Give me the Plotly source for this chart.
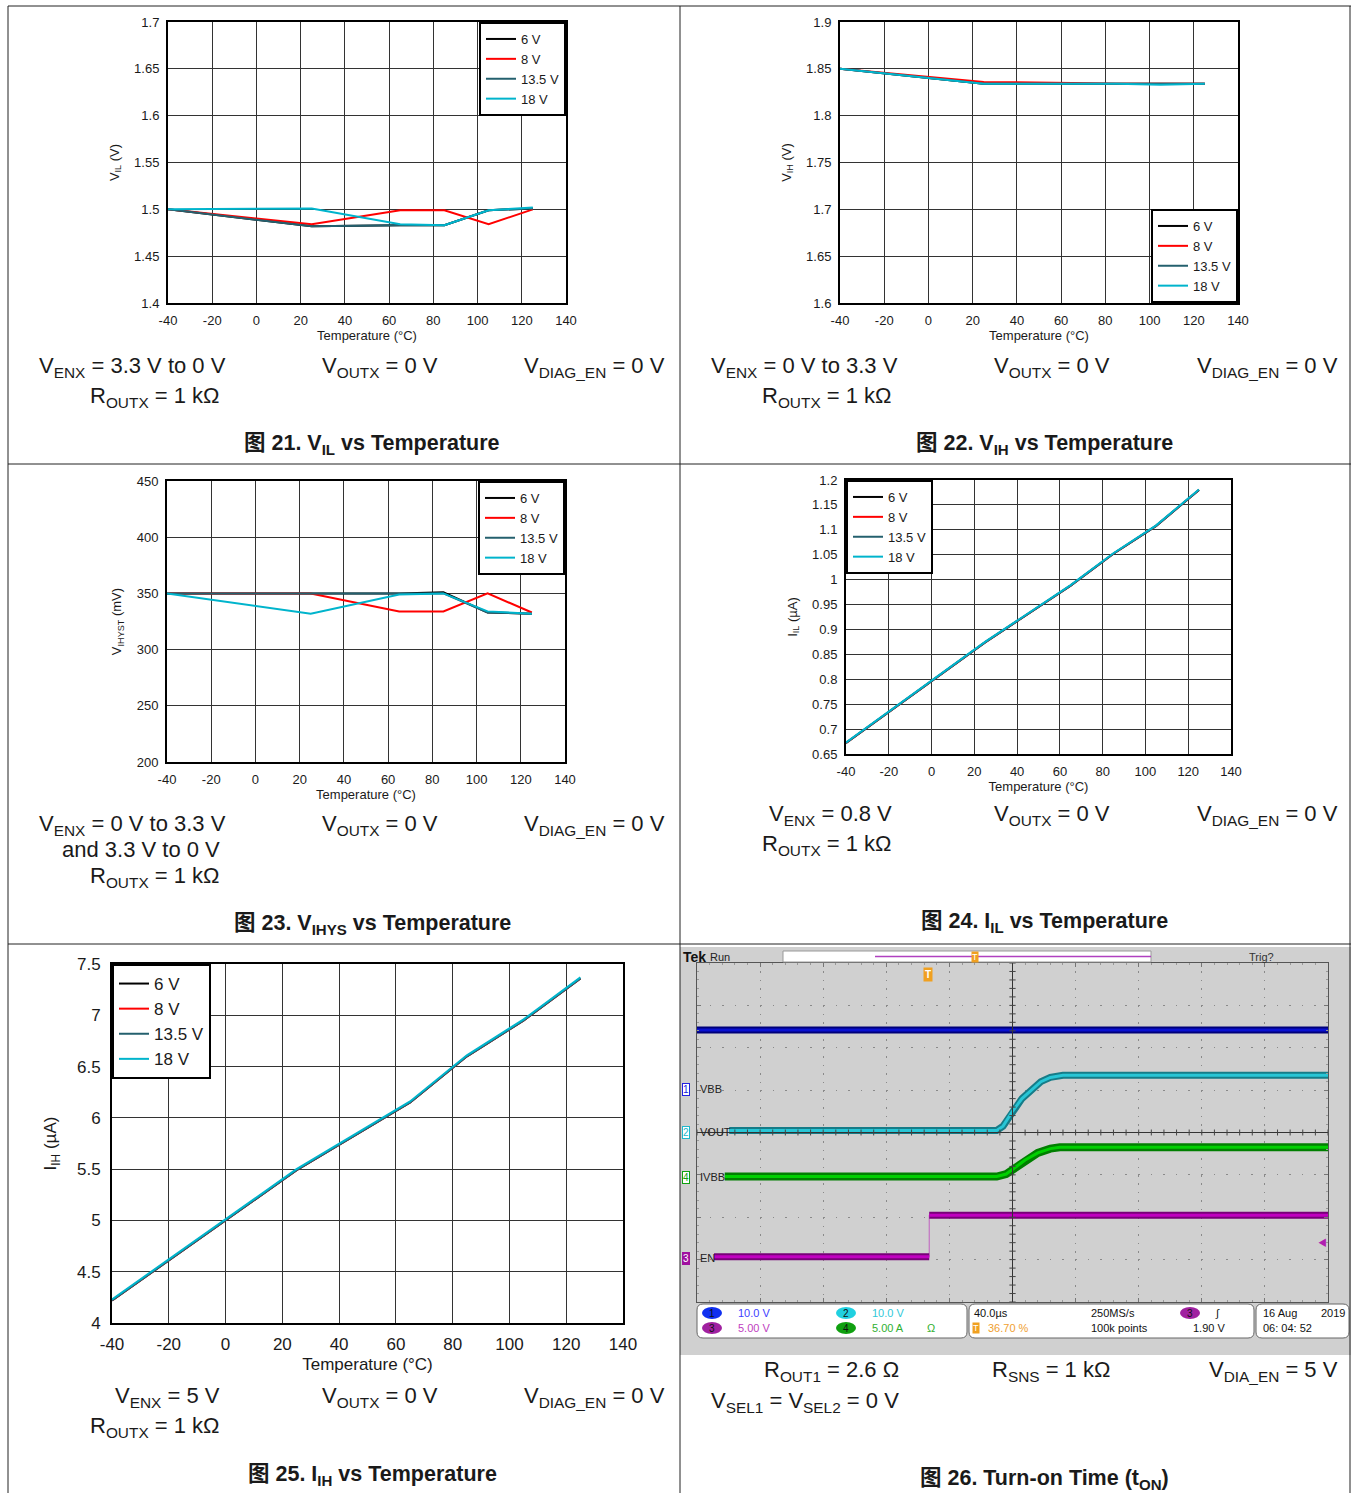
import plotly.graph_objects as go

W, H = 1351, 1493
def fx(x): return x / W
def fy(y): return 1 - y / H

FONT = "Liberation Sans, Arial, Noto Sans CJK SC, sans-serif"

# ---------------- data ----------------
temps = [-40, 25, 65, 85, 105, 125]
series_names = ["6 V", "8 V", "13.5 V", "18 V"]
series_colors = ["#000000", "#ff0000", "#24606e", "#00b4cc"]
temp_ticks = [-40, -20, 0, 20, 40, 60, 80, 100, 120, 140]
temp_labels = ["-40", "-20", "0", "20", "40", "60", "80", "100", "120", "140"]

# Fig 21 VIL (V)
vil_6v = [1.500, 1.482, 1.483, 1.483, 1.499, 1.501]
vil_8v = [1.500, 1.484, 1.499, 1.499, 1.484, 1.500]
vil_13v = [1.500, 1.482, 1.483, 1.483, 1.499, 1.501]
vil_18v = [1.500, 1.501, 1.484, 1.483, 1.499, 1.502]
vil_ticks = [1.4, 1.45, 1.5, 1.55, 1.6, 1.65, 1.7]
vil_labels = ["1.4", "1.45", "1.5", "1.55", "1.6", "1.65", "1.7"]

# Fig 22 VIH (V)
vih_6v = [1.850, 1.834, 1.834, 1.834, 1.834, 1.834]
vih_8v = [1.850, 1.836, 1.835, 1.834, 1.834, 1.834]
vih_13v = [1.850, 1.834, 1.834, 1.834, 1.834, 1.834]
vih_18v = [1.850, 1.834, 1.834, 1.834, 1.833, 1.834]
vih_ticks = [1.6, 1.65, 1.7, 1.75, 1.8, 1.85, 1.9]
vih_labels = ["1.6", "1.65", "1.7", "1.75", "1.8", "1.85", "1.9"]

# Fig 23 VIHYS (mV)
hys_6v = [350, 350, 350, 351, 333, 332]
hys_8v = [350, 350, 334, 334, 350, 333]
hys_13v = [350, 350, 350, 350, 333, 332]
hys_18v = [350, 332, 349, 350, 334, 332]
hys_ticks = [200, 250, 300, 350, 400, 450]
hys_labels = ["200", "250", "300", "350", "400", "450"]

# Fig 24 IIL (uA)
iil_6v = [0.672, 0.874, 0.988, 1.052, 1.108, 1.180]
iil_8v = [0.672, 0.874, 0.988, 1.052, 1.108, 1.180]
iil_13v = [0.672, 0.874, 0.988, 1.052, 1.108, 1.180]
iil_18v = [0.673, 0.875, 0.989, 1.053, 1.109, 1.181]
iil_ticks = [0.65, 0.7, 0.75, 0.8, 0.85, 0.9, 0.95, 1.0, 1.05, 1.1, 1.15, 1.2]
iil_labels = ["0.65", "0.7", "0.75", "0.8", "0.85", "0.9", "0.95", "1", "1.05", "1.1", "1.15", "1.2"]

# Fig 25 IIH (uA)
iih_6v = [4.22, 5.49, 6.15, 6.60, 6.95, 7.36]
iih_8v = [4.22, 5.49, 6.15, 6.60, 6.95, 7.36]
iih_13v = [4.22, 5.49, 6.15, 6.60, 6.95, 7.36]
iih_18v = [4.23, 5.50, 6.16, 6.61, 6.96, 7.37]
iih_ticks = [4, 4.5, 5, 5.5, 6, 6.5, 7, 7.5]
iih_labels = ["4", "4.5", "5", "5.5", "6", "6.5", "7", "7.5"]

# Fig 26 scope traces (time in divisions, level in divisions)
vbb_t = [0.0, 10.0]
vbb_v = [6.42, 6.42]
vout_t = [0.51, 4.75, 4.85, 5.0, 5.15, 5.3, 5.45, 5.6, 5.8, 10.0]
vout_v = [4.05, 4.05, 4.15, 4.5, 4.8, 5.0, 5.2, 5.3, 5.35, 5.35]
ivbb_t = [0.44, 4.75, 4.9, 5.0, 5.2, 5.4, 5.6, 5.75, 10.0]
ivbb_v = [2.96, 2.96, 3.02, 3.13, 3.35, 3.52, 3.62, 3.65, 3.65]
en_t = [0.27, 3.68, 3.68, 10.0]
en_v = [1.07, 1.07, 2.05, 2.05]

# ---------------- figure ----------------
fig = go.Figure()
layout = dict(width=W, height=H, margin=dict(l=0, r=0, t=0, b=0), autosize=False,
              paper_bgcolor="white", plot_bgcolor="white",
              font=dict(family=FONT, color="#1a1a1a"), showlegend=True,
              shapes=[], annotations=[])

def sfx(n):
    return "" if n == 1 else str(n)

def line_panel(n, box, yr, ytv, ytt, ytitle, data, fs, legpos, stand):
    x0, x1, y0, y1 = box
    s = sfx(n)
    layout["xaxis" + s] = dict(domain=[fx(x0), fx(x1)], anchor="y" + s, range=[-40, 140],
                               tickvals=temp_ticks, ticktext=temp_labels, showgrid=True,
                               gridcolor="#333", gridwidth=1, showline=True, linecolor="black",
                               linewidth=2, mirror=True, ticks="", zeroline=False,
                               tickfont=dict(size=fs), ticklabelstandoff=stand[0], automargin=False,
                               title=dict(text="Temperature (°C)", font=dict(size=fs), standoff=stand[1]))
    layout["yaxis" + s] = dict(domain=[fy(y1), fy(y0)], anchor="x" + s, range=yr,
                               tickvals=ytv, ticktext=ytt, showgrid=True,
                               gridcolor="#333", gridwidth=1, showline=True, linecolor="black",
                               linewidth=2, mirror=True, ticks="", zeroline=False,
                               tickfont=dict(size=fs), ticklabelstandoff=stand[2], automargin=False,
                               title=dict(text=ytitle, font=dict(size=fs), standoff=stand[3]))
    lg = "legend" + s
    for name, col, vals in zip(series_names, series_colors, data):
        fig.add_trace(go.Scatter(x=temps, y=vals, mode="lines", name=name,
                                 line=dict(color=col, width=2), xaxis="x" + s, yaxis="y" + s,
                                 legend=lg))
    lx, ly, xa, ya = legpos
    layout[lg] = dict(x=fx(lx), y=fy(ly), xanchor=xa, yanchor=ya, bgcolor="white",
                      bordercolor="black", borderwidth=2, font=dict(size=fs, family=FONT),
                      itemwidth=30, tracegroupgap=0, traceorder="normal")

line_panel(1, (168, 566, 22, 303), [1.4, 1.7], vil_ticks, vil_labels, "V<sub>IL</sub> (V)",
           [vil_6v, vil_8v, vil_13v, vil_18v], 13, (566, 22, "right", "top"), (4, 4, 4, 12))
line_panel(2, (840, 1238, 22, 303), [1.6, 1.9], vih_ticks, vih_labels, "V<sub>IH</sub> (V)",
           [vih_6v, vih_8v, vih_13v, vih_18v], 13, (1238, 303, "right", "bottom"), (4, 4, 4, 12))
line_panel(3, (167, 565, 481, 762), [200, 450], hys_ticks, hys_labels, "V<sub>IHYST</sub> (mV)",
           [hys_6v, hys_8v, hys_13v, hys_18v], 13, (565, 481, "right", "top"), (4, 4, 4, 12))
line_panel(4, (846, 1231, 480, 754), [0.65, 1.2], iil_ticks, iil_labels, "I<sub>IL</sub> (µA)",
           [iil_6v, iil_8v, iil_13v, iil_18v], 13, (846, 480, "left", "top"), (4, 4, 4, 12))
line_panel(5, (112, 623, 964, 1323), [4, 7.5], iih_ticks, iih_labels, "I<sub>IH</sub> (µA)",
           [iih_6v, iih_8v, iih_13v, iih_18v], 17, (112, 964, "left", "top"), (5, 5, 6, 16))

# ---------------- scope panel ----------------
SX0, SX1, SY0, SY1 = 697, 1328, 963, 1302
layout["xaxis6"] = dict(domain=[fx(SX0), fx(SX1)], anchor="y6", range=[0, 10], dtick=1, tick0=0,
                        showgrid=True, gridcolor="#8a8a8a", gridwidth=1, griddash="1.5px,6.98px",
                        showline=True, linecolor="#555", linewidth=1, mirror="ticks",
                        ticks="inside", ticklen=4, tickcolor="#777", showticklabels=False,
                        zeroline=False, automargin=False,
                        minor=dict(dtick=0.2, ticks="inside", ticklen=2, tickcolor="#999"))
layout["yaxis6"] = dict(domain=[fy(SY1), fy(SY0)], anchor="x6", range=[0, 8], dtick=1, tick0=0,
                        showgrid=True, gridcolor="#8a8a8a", gridwidth=1, griddash="1.5px,11.1px",
                        showline=True, linecolor="#555", linewidth=1, mirror="ticks",
                        ticks="inside", ticklen=4, tickcolor="#777", showticklabels=False,
                        zeroline=False, automargin=False,
                        minor=dict(dtick=0.2, ticks="inside", ticklen=2, tickcolor="#999"))

def scope_trace(t, v, under, top, wu, wt):
    fig.add_trace(go.Scatter(x=t, y=v, mode="lines", line=dict(color=under, width=wu),
                             xaxis="x6", yaxis="y6", showlegend=False, hoverinfo="skip"))
    fig.add_trace(go.Scatter(x=t, y=v, mode="lines", line=dict(color=top, width=wt),
                             xaxis="x6", yaxis="y6", showlegend=False, hoverinfo="skip"))

scope_trace(vbb_t, vbb_v, "#00007a", "#0a12d2", 7, 3)
scope_trace(vout_t, vout_v, "#167c88", "#28c6d6", 7, 3)
scope_trace(ivbb_t, ivbb_v, "#007f00", "#00d000", 8, 3)
# EN: thin connector + thick low/high levels
fig.add_trace(go.Scatter(x=en_t, y=en_v, mode="lines", line=dict(color="#c060c0", width=1),
                         xaxis="x6", yaxis="y6", showlegend=False, hoverinfo="skip"))
en_split_t = en_t[:2] + [None] + en_t[2:]
en_split_v = en_v[:2] + [None] + en_v[2:]
scope_trace(en_split_t, en_split_v, "#780078", "#c000c0", 7, 3)

shapes = layout["shapes"]
ann = layout["annotations"]

# gray scope surround
shapes.append(dict(type="rect", xref="paper", yref="paper", x0=fx(680), x1=fx(1351),
                   y0=fy(1355), y1=fy(947), fillcolor="#d0d0d0", line=dict(width=0), layer="below"))
# center cross lines
shapes.append(dict(type="line", xref="x6", yref="y6", x0=5, x1=5, y0=0, y1=8,
                   line=dict(color="#333", width=1)))
shapes.append(dict(type="line", xref="x6", yref="y6", x0=0, x1=10, y0=4, y1=4,
                   line=dict(color="#333", width=1)))
for i in range(51):
    shapes.append(dict(type="line", xref="x6", yref="y6", x0=i * 0.2, x1=i * 0.2,
                       y0=3.93, y1=4.07, line=dict(color="#444", width=1)))
for i in range(41):
    shapes.append(dict(type="line", xref="x6", yref="y6", x0=4.95, x1=5.05,
                       y0=i * 0.2, y1=i * 0.2, line=dict(color="#444", width=1)))

# top bar
shapes.append(dict(type="rect", xref="paper", yref="paper", x0=fx(783), x1=fx(1151),
                   y0=fy(962), y1=fy(951), fillcolor="white", line=dict(color="#999", width=1)))
shapes.append(dict(type="line", xref="paper", yref="paper", x0=fx(875), x1=fx(1151),
                   y0=fy(956.5), y1=fy(956.5), line=dict(color="#b040c0", width=1.5)))

def txt(x, y, text, size, anchor="left", color="#1a1a1a", bold=False, family=FONT, **kw):
    if bold:
        text = "<b>" + text + "</b>"
    d = dict(x=fx(x), y=fy(y), xref="paper", yref="paper", text=text, showarrow=False,
             xanchor=anchor, yanchor="middle", font=dict(size=size, color=color, family=family))
    d.update(kw)
    ann.append(d)

txt(681, 957, "Tek", 14, bold=True, color="#111")
txt(708, 957, "Run", 11, color="#222")
txt(1247, 957, "Trig?", 11, color="#333")
txt(975, 957, "T", 9, anchor="center", color="white", bgcolor="#f0a020", borderpad=0)
txt(928, 974, "T", 10, anchor="center", color="white", bold=True, bgcolor="#f0a020", borderpad=1)

# channel markers
for y, num, col, lab, filled in [(1089, "1", "#2020e0", "VBB", False),
                                 (1132, "2", "#20b8cc", "VOUT", False),
                                 (1177, "4", "#10a010", "IVBB", False),
                                 (1258, "3", "#a010a0", "EN", True)]:
    if filled:
        txt(686, y, num, 10, anchor="center", color="white", bgcolor=col, bordercolor=col,
            borderwidth=1, borderpad=0)
    else:
        txt(686, y, num, 10, anchor="center", color=col, bgcolor="white", bordercolor=col,
            borderwidth=1, borderpad=0)
    txt(698, y, lab, 11, color="#222")
txt(1322, 1243, "◀", 9, anchor="center", color="#b020b0")

# bottom info boxes
def rrect(x0, x1, y0, y1, r=6):
    X0, X1, Y0, Y1 = fx(x0), fx(x1), fy(y0), fy(y1)
    rx, ry = r / W, r / H
    path = (f"M {X0+rx},{Y0} L {X1-rx},{Y0} Q {X1},{Y0} {X1},{Y0-ry} L {X1},{Y1+ry} "
            f"Q {X1},{Y1} {X1-rx},{Y1} L {X0+rx},{Y1} Q {X0},{Y1} {X0},{Y1+ry} "
            f"L {X0},{Y0-ry} Q {X0},{Y0} {X0+rx},{Y0} Z")
    shapes.append(dict(type="path", xref="paper", yref="paper", path=path,
                       fillcolor="white", line=dict(color="#666", width=1)))

rrect(697, 967, 1304, 1338)
rrect(969, 1254, 1304, 1338)
rrect(1256, 1349, 1304, 1338)

def circ(x, y, col):
    shapes.append(dict(type="circle", xref="paper", yref="paper", x0=fx(x - 10), x1=fx(x + 10),
                       y0=fy(y + 6), y1=fy(y - 6), fillcolor=col, line=dict(width=0)))

circ(712, 1313, "#1030f0"); txt(712, 1313, "1", 10, anchor="center", color="#111")
circ(846, 1313, "#20d0e0"); txt(846, 1313, "2", 10, anchor="center", color="#111")
circ(712, 1328, "#a020a0"); txt(712, 1328, "3", 10, anchor="center", color="#111")
circ(846, 1328, "#10a010"); txt(846, 1328, "4", 10, anchor="center", color="#111")
circ(1190, 1313, "#a020a0"); txt(1190, 1313, "3", 10, anchor="center", color="#111")
txt(736, 1313, "10.0 V", 11, color="#4040ff")
txt(870, 1313, "10.0 V", 11, color="#30c8d8")
txt(736, 1328, "5.00 V", 11, color="#c040c0")
txt(870, 1328, "5.00 A", 11, color="#30b030")
txt(925, 1328, "Ω", 11, color="#30b030")
txt(972, 1313, "40.0µs", 11, color="#111")
txt(1089, 1313, "250MS/s", 11, color="#111")
txt(1213, 1313, "∫", 11, color="#111")
txt(976, 1328, "T", 9, anchor="center", color="white", bgcolor="#f0a020", borderpad=0)
txt(986, 1328, "36.70 %", 11, color="#f0a030")
txt(1089, 1328, "100k points", 11, color="#111")
txt(1191, 1328, "1.90 V", 11, color="#111")
txt(1261, 1313, "16 Aug", 11, color="#111")
txt(1347, 1313, "2019", 11, anchor="right", color="#111")
txt(1261, 1328, "06: 04: 52", 11, color="#111")

# ---------------- conditions & captions ----------------
FS = 22
CAP = 21.5
# Fig 21
txt(37, 367, "V<sub>ENX</sub> = 3.3 V to 0 V", FS)
txt(320, 367, "V<sub>OUTX</sub> = 0 V", FS)
txt(522, 367, "V<sub>DIAG_EN</sub> = 0 V", FS)
txt(222, 397, "R<sub>OUTX</sub> = 1 kΩ", FS, anchor="right")
txt(372, 444, "图 21. V<sub>IL</sub> vs Temperature", CAP, anchor="center", bold=True)
# Fig 22
txt(709, 367, "V<sub>ENX</sub> = 0 V to 3.3 V", FS)
txt(992, 367, "V<sub>OUTX</sub> = 0 V", FS)
txt(1195, 367, "V<sub>DIAG_EN</sub> = 0 V", FS)
txt(894, 397, "R<sub>OUTX</sub> = 1 kΩ", FS, anchor="right")
txt(1044, 444, "图 22. V<sub>IH</sub> vs Temperature", CAP, anchor="center", bold=True)
# Fig 23
txt(37, 825, "V<sub>ENX</sub> = 0 V to 3.3 V", FS)
txt(222, 849, "and 3.3 V to 0 V", FS, anchor="right")
txt(222, 877, "R<sub>OUTX</sub> = 1 kΩ", FS, anchor="right")
txt(320, 825, "V<sub>OUTX</sub> = 0 V", FS)
txt(522, 825, "V<sub>DIAG_EN</sub> = 0 V", FS)
txt(372, 924, "图 23. V<sub>IHYS</sub> vs Temperature", CAP, anchor="center", bold=True)
# Fig 24
txt(894, 815, "V<sub>ENX</sub> = 0.8 V", FS, anchor="right")
txt(992, 815, "V<sub>OUTX</sub> = 0 V", FS)
txt(1195, 815, "V<sub>DIAG_EN</sub> = 0 V", FS)
txt(894, 845, "R<sub>OUTX</sub> = 1 kΩ", FS, anchor="right")
txt(1044, 922, "图 24. I<sub>IL</sub> vs Temperature", CAP, anchor="center", bold=True)
# Fig 25
txt(222, 1397, "V<sub>ENX</sub> = 5 V", FS, anchor="right")
txt(320, 1397, "V<sub>OUTX</sub> = 0 V", FS)
txt(522, 1397, "V<sub>DIAG_EN</sub> = 0 V", FS)
txt(222, 1427, "R<sub>OUTX</sub> = 1 kΩ", FS, anchor="right")
txt(372, 1475, "图 25. I<sub>IH</sub> vs Temperature", CAP, anchor="center", bold=True)
# Fig 26
txt(901, 1371, "R<sub>OUT1</sub> = 2.6 Ω", FS, anchor="right")
txt(990, 1371, "R<sub>SNS</sub> = 1 kΩ", FS)
txt(1207, 1371, "V<sub>DIA_EN</sub> = 5 V", FS)
txt(901, 1402, "V<sub>SEL1</sub> = V<sub>SEL2</sub> = 0 V", FS, anchor="right")
txt(1044, 1479, "图 26. Turn-on Time (t<sub>ON</sub>)", CAP, anchor="center", bold=True)

# page frame lines
for (x0, y0, x1, y1) in [(8, 6, 1351, 6), (8, 464, 1351, 464), (8, 944, 1351, 944),
                         (8, 6, 8, 1493), (680, 6, 680, 1493), (1350, 6, 1350, 1493)]:
    shapes.append(dict(type="line", xref="paper", yref="paper", x0=fx(x0), x1=fx(x1),
                       y0=fy(y0), y1=fy(y1), line=dict(color="#222", width=1)))

fig.update_layout(**layout)
fig.write_html("out.html", config={"displayModeBar": False},
               post_script="document.body.style.margin='0';document.body.style.overflow='hidden';")
